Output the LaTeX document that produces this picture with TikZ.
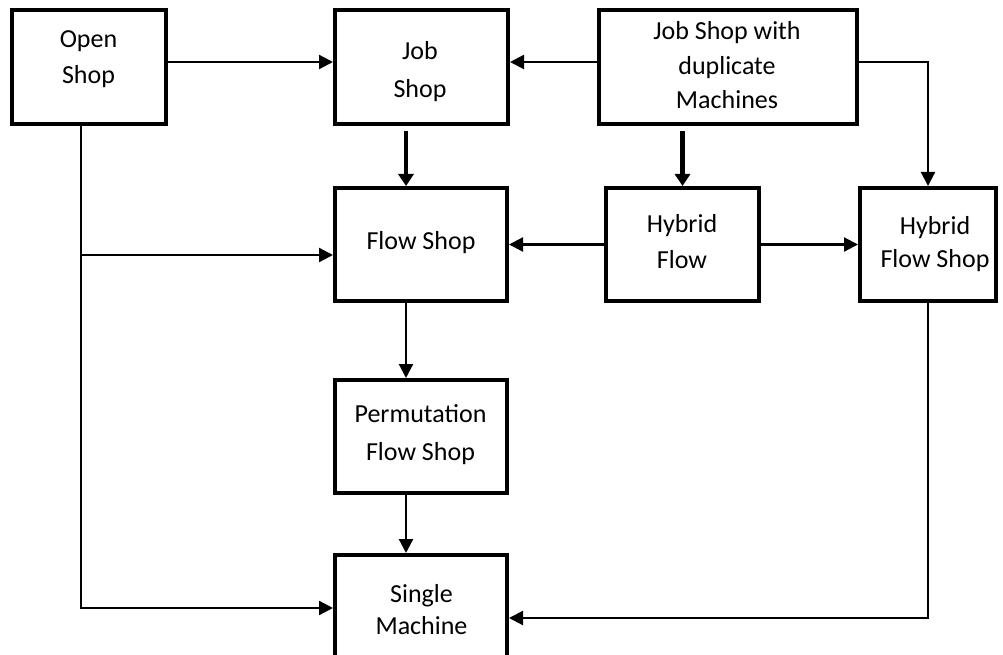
\documentclass[tikz,border=0pt]{standalone}
\usepackage{fontspec}
\setmainfont{Carlito}
\usetikzlibrary{arrows.meta,calc}
\begin{document}
\begin{tikzpicture}[x=1pt,y=-1pt,
  box/.style={draw, line width=4pt, inner sep=0pt},
  txt/.style={align=center, inner sep=0pt, font=\fontsize{26}{36}\selectfont},
  conn/.style={line width=2.2pt, -{Triangle[length=14pt,width=14pt]}},
  heavy/.style={line width=4.6pt, -{Triangle[length=12pt,width=15pt]}},
  plain/.style={line width=2.2pt}
]
\useasboundingbox (0,0) rectangle (1003,655);

% boxes
\node[box, minimum width=154pt, minimum height=114pt] (os)   at (89,67) {};
\node[box, minimum width=173pt, minimum height=114pt] (js)   at (421.5,67) {};
\node[box, minimum width=258pt, minimum height=114pt] (jswd) at (728,67) {};
\node[box, minimum width=172pt, minimum height=113pt] (fs)   at (421,244.5) {};
\node[box, minimum width=153pt, minimum height=113pt] (hf)   at (682.5,244.5) {};
\node[box, minimum width=136pt, minimum height=113pt] (hfs)  at (928,244.5) {};
\node[box, minimum width=172pt, minimum height=113pt] (pfs)  at (421,436.5) {};
\node[box, minimum width=172pt, minimum height=113pt] (sm)   at (421,611.5) {};

% texts
\node[txt] (os-t)   at (88.5,59)  {Open\\Shop};
\node[txt] (js-t)   at (420,71.5) {Job\\[2pt]Shop};
\node[txt, font=\fontsize{26}{34.5}\selectfont] (jswd-t) at (727,65.5) {Job Shop with\\duplicate\\Machines};
\node[txt] (fs-t)   at (421,243)  {Flow Shop};
\node[txt] (hf-t)   at (682,242)  {Hybrid\\Flow};
\node[txt, font=\fontsize{26}{32.5}\selectfont] (hfs-t)  at (935,244) {Hybrid\\Flow Shop};
\node[txt, font=\fontsize{26}{38}\selectfont] (pfs-t)  at (420.5,435) {Permutation\\Flow Shop};
\node[txt, font=\fontsize{26}{32}\selectfont] (sm-t)   at (421.5,610) {Single\\Machine};

% helper coordinates
\coordinate (osx)   at ($(os.south)+(-8,0)$);
\coordinate (fsin)  at ($(fs.west)+(0,10.5)$);
\coordinate (smin)  at ($(sm.west)+(0,-3.5)$);
\coordinate (smin2) at ($(sm.east)+(0,6.5)$);

% connectors
\draw[conn] ([yshift=5pt]os.east) -- ([yshift=5pt]js.west);
\draw[conn] ([yshift=5pt]jswd.west) -- ([yshift=5pt]js.east);
\draw[conn] ([yshift=5pt]jswd.east) -| (hfs.north);
\draw[heavy] ($([xshift=-15pt]fs.north |- js.south)+(0,5)$) -- ([xshift=-15pt]fs.north);
\draw[heavy] ($(hf.north |- jswd.south)+(0,5)$) -- (hf.north);
\draw[conn] (hf.west) -- (fs.east);
\draw[conn] (hf.east) -- (hfs.west);
\draw[conn] (osx |- fsin) -- (fsin);
\draw[conn] (osx) |- (smin);
\draw[conn] ([xshift=-15pt]fs.south) -- ([xshift=-15pt]pfs.north);
\draw[conn] ([xshift=-15pt]pfs.south) -- ([xshift=-15pt]sm.north);
\draw[conn] (hfs.south) |- (smin2);
\end{tikzpicture}
\end{document}
